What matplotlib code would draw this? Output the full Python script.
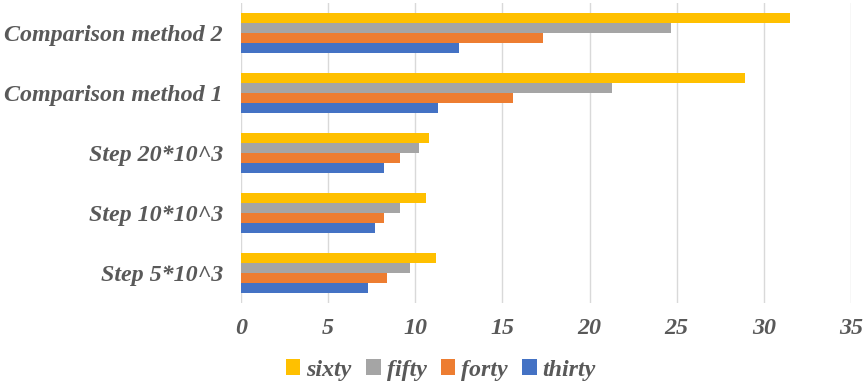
import matplotlib.pyplot as plt
import numpy as np

categories = ["Step 5*10^3", "Step 10*10^3", "Step 20*10^3",
              "Comparison method 1", "Comparison method 2"]
series_names = ["thirty", "forty", "fifty", "sixty"]
thirty = [7.3, 7.7, 8.2, 11.3, 12.5]
forty = [8.4, 8.2, 9.1, 15.6, 17.3]
fifty = [9.7, 9.1, 10.2, 21.3, 24.7]
sixty = [11.2, 10.6, 10.8, 28.9, 31.5]
ticks = [0, 5, 10, 15, 20, 25, 30, 35]

colors = ["#4472C4", "#ED7D31", "#A5A5A5", "#FFC000"]
txt = "#595959"
font = dict(family="Liberation Serif", weight="bold", style="italic")

fig = plt.figure(figsize=(8.68, 3.84), dpi=100)
ax = fig.add_axes([241 / 868, 1 - 303 / 384, 610 / 868, 300 / 384])

y = np.arange(len(categories))
h = 0.17
handles = []
for i, (vals, c) in enumerate(zip([thirty, forty, fifty, sixty], colors)):
    b = ax.barh(y + (i - 1.5) * h, vals, height=h, color=c, label=series_names[i])
    handles.append(b)

ax.set_xlim(0, 35)
ax.set_ylim(-0.5, 4.5)
ax.set_xticks(ticks)
ax.set_xticklabels([str(t) for t in ticks], color=txt, fontsize=17.3, **font)
ax.set_yticks(y)
ax.set_yticklabels(categories, color=txt, fontsize=17.3, **font)
ax.tick_params(axis="both", length=0)
ax.tick_params(axis="y", pad=13)
ax.tick_params(axis="x", pad=11)
ax.grid(axis="x", color="#D9D9D9", linewidth=1)
ax.set_axisbelow(True)
for s in ax.spines.values():
    s.set_visible(False)

fig.legend(handles[::-1], series_names[::-1], loc="center",
           bbox_to_anchor=(441 / 868, 1 - 370 / 384), ncol=4, frameon=False,
           prop=dict(size=17.3, **font), labelcolor=txt,
           handlelength=0.6, handleheight=0.6, handletextpad=0.25, columnspacing=0.6)

fig.savefig("out.png", dpi=100)
